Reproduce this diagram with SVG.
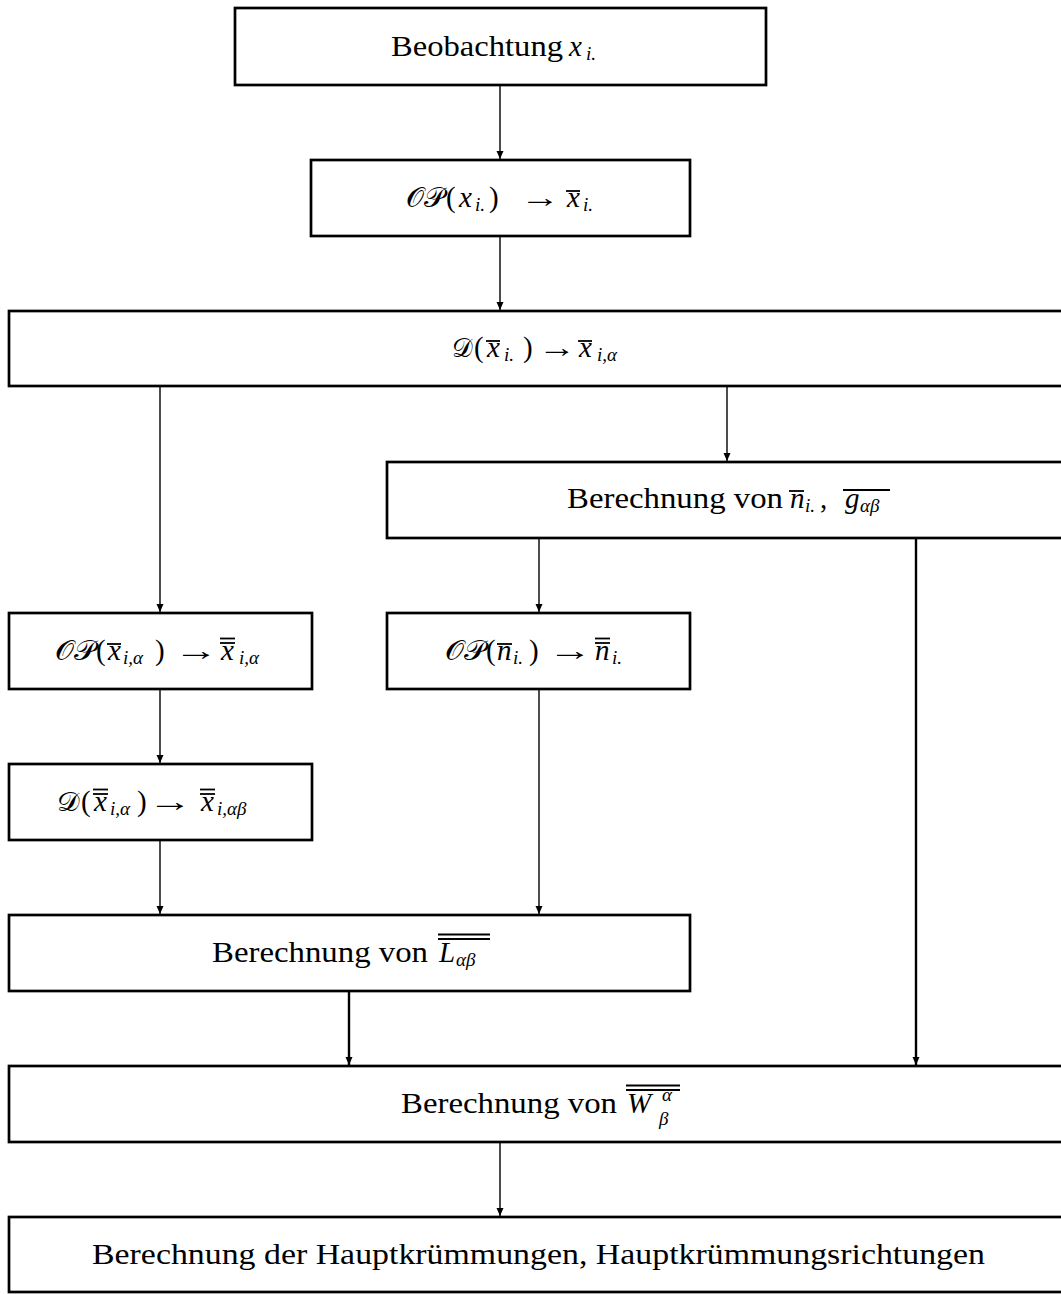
<svg xmlns="http://www.w3.org/2000/svg" width="1061" height="1294" viewBox="0 0 1061 1294">
<style>
.box{fill:#fff;stroke:#000;stroke-width:2.7}
.t{font-family:'Liberation Serif','DejaVu Serif',serif;font-size:29px;fill:#000}
.i{font-family:'Liberation Serif','DejaVu Serif',serif;font-size:29px;font-style:italic;fill:#000}
.s{font-family:'Liberation Serif','DejaVu Serif',serif;font-size:19px;font-style:italic;fill:#000}
.c{font-family:'DejaVu Serif','DejaVu Sans',serif;font-size:27px;fill:#000}
.ol{stroke:#000;stroke-width:1.8}
.conn line{stroke:#000;stroke-width:1.4;marker-end:url(#ah)}
.conn line.thick{stroke-width:2.4}
</style>
<defs>
<marker id="ah" markerUnits="userSpaceOnUse" markerWidth="10" markerHeight="10" refX="8" refY="3.5" orient="auto">
<path d="M0,0 L8,3.5 L0,7 Z" fill="#000"/>
</marker>
</defs>
<rect width="1061" height="1294" fill="#fff"/>

<g id="n1">
<rect class="box" x="235" y="8" width="531" height="77"/>
<text class="t" x="391" y="56" textLength="172" lengthAdjust="spacingAndGlyphs">Beobachtung</text>
<text class="i" x="569" y="56">x</text>
<text class="s" x="586" y="60">i.</text>
</g>

<g id="n2">
<rect class="box" x="311" y="160" width="379" height="76"/>
<text class="c" x="406" y="207" textLength="38" lengthAdjust="spacingAndGlyphs">𝒪𝒫</text>
<text class="t" x="446" y="207">(</text>
<text class="i" x="459" y="207">x</text>
<text class="s" x="475" y="211">i.</text>
<text class="t" x="489" y="207">)</text>
<text class="t" x="520" y="207" textLength="40" lengthAdjust="spacingAndGlyphs">→</text>
<text class="i" x="567" y="207">x</text>
<line class="ol" x1="566" y1="191" x2="580" y2="191"/>
<text class="s" x="583" y="211">i.</text>
</g>

<g id="n3">
<rect class="box" x="9" y="311" width="1060" height="75"/>
<text class="c" x="452" y="357" textLength="21" lengthAdjust="spacingAndGlyphs">𝒟</text>
<text class="t" x="474" y="357">(</text>
<text class="i" x="487" y="357">x</text>
<line class="ol" x1="486" y1="341" x2="500" y2="341"/>
<text class="s" x="504" y="361">i.</text>
<text class="t" x="523" y="357">)</text>
<text class="t" x="538" y="357" textLength="38" lengthAdjust="spacingAndGlyphs">→</text>
<text class="i" x="579" y="357">x</text>
<line class="ol" x1="578" y1="341" x2="592" y2="341"/>
<text class="s" x="597" y="361">i,α</text>
</g>

<g id="n4">
<rect class="box" x="387" y="462" width="680" height="76"/>
<text class="t" x="567" y="508" textLength="216" lengthAdjust="spacingAndGlyphs">Berechnung von</text>
<text class="i" x="790" y="508">n</text>
<line class="ol" x1="789" y1="491" x2="804" y2="491"/>
<text class="s" x="805" y="512">i.</text>
<text class="t" x="820" y="508">,</text>
<text class="i" x="845" y="508">g</text>
<text class="s" x="860" y="512">αβ</text>
<line class="ol" x1="843" y1="490" x2="890" y2="490"/>
</g>

<g id="n5">
<rect class="box" x="9" y="613" width="303" height="76"/>
<text class="c" x="55" y="660" textLength="40" lengthAdjust="spacingAndGlyphs">𝒪𝒫</text>
<text class="t" x="96" y="660">(</text>
<text class="i" x="108" y="660">x</text>
<line class="ol" x1="107" y1="644" x2="121" y2="644"/>
<text class="s" x="123" y="664">i,α</text>
<text class="t" x="155" y="660">)</text>
<text class="t" x="174" y="660" textLength="44" lengthAdjust="spacingAndGlyphs">→</text>
<text class="i" x="221" y="660">x</text>
<line class="ol" x1="220" y1="643" x2="235" y2="643"/>
<line class="ol" x1="220" y1="638.5" x2="235" y2="638.5"/>
<text class="s" x="239" y="664">i,α</text>
</g>

<g id="n6">
<rect class="box" x="387" y="613" width="303" height="76"/>
<text class="c" x="445" y="660" textLength="40" lengthAdjust="spacingAndGlyphs">𝒪𝒫</text>
<text class="t" x="486" y="660">(</text>
<text class="i" x="497" y="660">n</text>
<line class="ol" x1="497" y1="644" x2="512" y2="644"/>
<text class="s" x="513" y="664">i.</text>
<text class="t" x="529" y="660">)</text>
<text class="t" x="548" y="660" textLength="44" lengthAdjust="spacingAndGlyphs">→</text>
<text class="i" x="595" y="660">n</text>
<line class="ol" x1="595" y1="643" x2="610" y2="643"/>
<line class="ol" x1="595" y1="638.5" x2="610" y2="638.5"/>
<text class="s" x="612" y="664">i.</text>
</g>

<g id="n7">
<rect class="box" x="9" y="764" width="303" height="76"/>
<text class="c" x="57" y="811" textLength="23" lengthAdjust="spacingAndGlyphs">𝒟</text>
<text class="t" x="81" y="811">(</text>
<text class="i" x="94" y="811">x</text>
<line class="ol" x1="93" y1="794" x2="108" y2="794"/>
<line class="ol" x1="93" y1="789.5" x2="108" y2="789.5"/>
<text class="s" x="110" y="815">i,α</text>
<text class="t" x="137" y="811">)</text>
<text class="t" x="148" y="811" textLength="44" lengthAdjust="spacingAndGlyphs">→</text>
<text class="i" x="201" y="811">x</text>
<line class="ol" x1="200" y1="794" x2="215" y2="794"/>
<line class="ol" x1="200" y1="789.5" x2="215" y2="789.5"/>
<text class="s" x="217" y="815">i,αβ</text>
</g>

<g id="n8">
<rect class="box" x="9" y="915" width="681" height="76"/>
<text class="t" x="212" y="962" textLength="216" lengthAdjust="spacingAndGlyphs">Berechnung von</text>
<text class="i" x="439" y="962">L</text>
<text class="s" x="456" y="966">αβ</text>
<line class="ol" x1="438" y1="939" x2="490" y2="939"/>
<line class="ol" x1="438" y1="934.5" x2="490" y2="934.5"/>
</g>

<g id="n9">
<rect class="box" x="9" y="1066" width="1060" height="76"/>
<text class="t" x="401" y="1113" textLength="216" lengthAdjust="spacingAndGlyphs">Berechnung von</text>
<text class="i" x="627" y="1113">W</text>
<text class="s" x="662" y="1101" font-size="17">α</text>
<text class="s" x="659" y="1125" font-size="17">β</text>
<line class="ol" x1="626" y1="1090" x2="680" y2="1090"/>
<line class="ol" x1="626" y1="1085.5" x2="680" y2="1085.5"/>
</g>

<g id="n10">
<rect class="box" x="9" y="1217" width="1060" height="75"/>
<text class="t" x="92" y="1264" textLength="893" lengthAdjust="spacingAndGlyphs">Berechnung der Hauptkrümmungen, Hauptkrümmungsrichtungen</text>
</g>

<g id="connectors" class="conn">
<line x1="500" y1="86" x2="500" y2="159"/>
<line x1="500" y1="237" x2="500" y2="310"/>
<line x1="160" y1="387" x2="160" y2="612"/>
<line x1="727" y1="387" x2="727" y2="461"/>
<line x1="539" y1="539" x2="539" y2="612"/>
<line class="thick" x1="916" y1="539" x2="916" y2="1065"/>
<line x1="160" y1="690" x2="160" y2="763"/>
<line x1="539" y1="690" x2="539" y2="914"/>
<line x1="160" y1="841" x2="160" y2="914"/>
<line class="thick" x1="349" y1="992" x2="349" y2="1065"/>
<line x1="500" y1="1143" x2="500" y2="1216"/>
</g>
</svg>
